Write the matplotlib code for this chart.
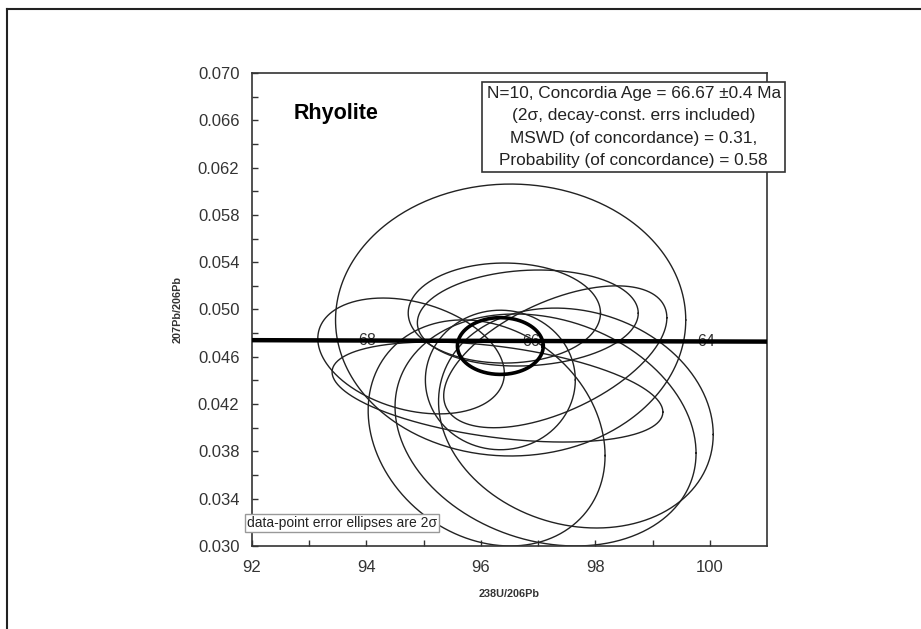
import numpy as np
import matplotlib
matplotlib.use("Agg")
import matplotlib.pyplot as plt
from matplotlib.lines import Line2D

plt.rcParams['font.family'] = ['Liberation Sans', 'DejaVu Sans']

# ---- data-point ellipses (2 sigma): centre, half-extents, error correlation ----
x_238U_206Pb = [96.52, 96.41, 96.82, 94.78, 96.29, 96.10, 97.13, 97.66, 97.30, 96.34]
y_207Pb_206Pb = [0.04911, 0.04970, 0.04928, 0.04607, 0.04302, 0.03956, 0.03981, 0.04082, 0.04600, 0.04404]
err_x = [3.06, 1.68, 1.93, 1.63, 2.89, 2.07, 2.63, 2.40, 1.95, 1.31]
err_y = [0.0115, 0.00423, 0.00406, 0.0049, 0.00423, 0.00956, 0.00981, 0.0093, 0.0060, 0.0059]
rho = [0.0, 0.0, 0.10, -0.30, -0.40, -0.20, -0.20, -0.15, 0.55, 0.0]

# concordia age ellipse
conc_x, conc_y, conc_ex, conc_ey, conc_rho = 96.34, 0.04691, 0.75, 0.0024, 0.0

# concordia curve (decay constants) and age labels
lam238 = 1.55125e-10
lam235 = 9.8485e-10
U_ratio = 137.88
curve_ages_Ma = [60.0, 72.0]
tick_ages = [68, 66, 64]

x_ticks = [92, 94, 96, 98, 100]
y_ticks = [0.030, 0.034, 0.038, 0.042, 0.046, 0.050, 0.054, 0.058, 0.062, 0.066, 0.070]

info_lines = ["N=10, Concordia Age = 66.67 \u00b10.4 Ma",
              "(2\u03c3, decay-const. errs included)",
              "MSWD (of concordance) = 0.31,",
              "Probability (of concordance) = 0.58"]


def ellipse_pts(cx, cy, ex, ey, r, n=400):
    t = np.linspace(0, 2 * np.pi, n)
    xs = cx + ex * np.cos(t)
    ys = cy + ey * (r * np.cos(t) + np.sqrt(1 - r * r) * np.sin(t))
    return xs, ys


def concordia(age_ma):
    t = np.asarray(age_ma) * 1e6
    e8 = np.exp(lam238 * t) - 1
    e5 = np.exp(lam235 * t) - 1
    return 1.0 / e8, e5 / e8 / U_ratio


fig = plt.figure(figsize=(9.21, 6.29), dpi=100)
ax = fig.add_axes([0.2736, 0.1320, 0.5592, 0.7519])

# concordia
ages = np.linspace(curve_ages_Ma[0], curve_ages_Ma[1], 200)
cxs, cys = concordia(ages)
ax.plot(cxs, cys, color='black', lw=3.2, zorder=4)
for a in tick_ages:
    tx, ty = concordia([a])
    ax.annotate(str(a), (tx[0], ty[0]), xytext=(-12, 0), textcoords='offset points',
                ha='center', va='center', fontsize=11.5, color='#333333', zorder=3)

for cx, cy, ex, ey, r in zip(x_238U_206Pb, y_207Pb_206Pb, err_x, err_y, rho):
    xs, ys = ellipse_pts(cx, cy, ex, ey, r)
    ax.plot(xs, ys, color='#222222', lw=1.0, zorder=2)

xs, ys = ellipse_pts(conc_x, conc_y, conc_ex, conc_ey, conc_rho)
ax.plot(xs, ys, color='black', lw=2.6, zorder=5)

ax.set_xlim(92, 101)
ax.set_ylim(0.030, 0.070)
ax.set_xticks(x_ticks)
ax.set_xticks(np.arange(93, 101, 2), minor=True)
ax.set_yticks(y_ticks)
ax.set_yticks(np.arange(0.032, 0.070, 0.004), minor=True)
ax.set_yticklabels([f"{v:.3f}" for v in y_ticks])
ax.tick_params(which='both', direction='in', length=4, width=1, labelsize=12,
               colors='#333333', top=False, right=False)
ax.tick_params(axis='x', pad=10)
ax.tick_params(axis='y', pad=9)
for s in ax.spines.values():
    s.set_color('#333333')
    s.set_linewidth(1.2)

ax.set_xlabel('238U/206Pb', fontsize=7.8, fontweight='bold', color='#333333', labelpad=10)
ax.set_ylabel('207Pb/206Pb', fontsize=7.8, fontweight='bold', color='#333333', labelpad=11)

ax.text(0.08, 0.915, 'Rhyolite', transform=ax.transAxes, fontsize=15.5,
        fontweight='bold', ha='left', va='center')

fig.text(0.688, 0.798, "\n".join(info_lines), ha='center', va='center', fontsize=12.4,
         linespacing=1.6, color='#222222',
         bbox=dict(boxstyle='square,pad=0.25', fc='white', ec='#333333', lw=1.2))

fig.text(0.2685, 0.1688, 'data-point error ellipses are 2\u03c3', ha='left', va='center',
         fontsize=10, color='#222222',
         bbox=dict(boxstyle='square,pad=0.15', fc='white', ec='#999999', lw=1))

# outer frame (top and left edges)
fig.add_artist(Line2D([7 / 921, 7 / 921], [0, 1 - 9 / 629], transform=fig.transFigure,
                      color='#222222', lw=1.5))
fig.add_artist(Line2D([7 / 921, 1], [1 - 9 / 629, 1 - 9 / 629], transform=fig.transFigure,
                      color='#222222', lw=1.5))

fig.savefig('out.png', dpi=100)
